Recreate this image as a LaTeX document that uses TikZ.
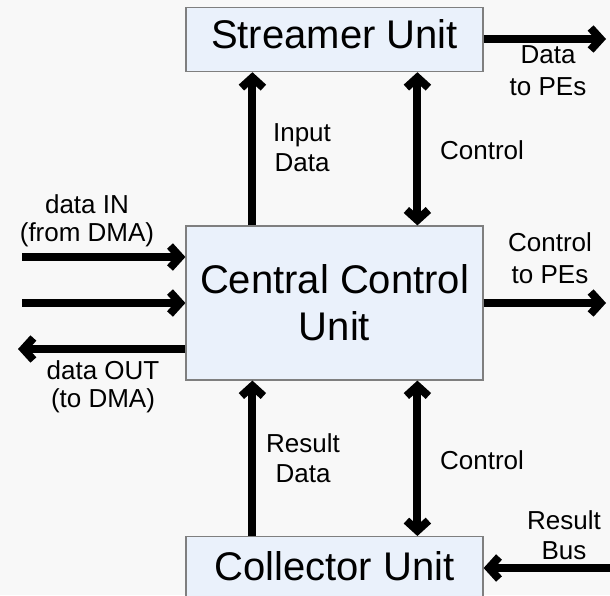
\documentclass[tikz,border=0pt]{standalone}
\usepackage{fontspec}
\setmainfont{Liberation Sans}
\usetikzlibrary{arrows.meta}
\definecolor{boxfill}{HTML}{EAF1FB}
\definecolor{boxline}{HTML}{7F7F7F}
\definecolor{bgcol}{HTML}{F8F8F8}
\begin{document}
\begin{tikzpicture}[x=1pt,y=-1pt,
  unit/.style={draw=boxline, line width=1.2pt, fill=boxfill, inner sep=0pt,
    minimum width=297pt, font=\fontsize{40}{47}\selectfont, align=center},
  lbl/.style={font=\fontsize{26}{30}\selectfont, align=center, inner sep=0pt},
  wide/.style={font=\fontsize{26}{32}\selectfont},
  narrow/.style={font=\fontsize{26}{27.5}\selectfont},
  tipb/.tip={Straight Barb[length=10pt,width=22pt]},
  arr/.style={line width=8pt, -tipb},
  darr/.style={line width=8pt, tipb-tipb}]
\useasboundingbox (0,0) rectangle (610,595);
\fill[bgcol] (0,0) rectangle (610,595);
\clip (0,0) rectangle (610,595);

\node[unit, anchor=north, text height=41pt, text depth=23pt] (streamer) at (334.5,7) {Streamer Unit};
\node[unit, minimum height=154pt] (central) at (334.5,303) {Central Control\\Unit};
\node[unit, anchor=north, text height=44pt, text depth=28pt] (collector) at (334.5,536) {Collector Unit};

\draw[arr] ([xshift=67pt]central.north west) -- ([xshift=67pt]streamer.south west);
\draw[darr] ([xshift=232pt]streamer.south west) -- ([xshift=232pt]central.north west);
\draw[arr] ([xshift=67pt]collector.north west) -- ([xshift=67pt]central.south west);
\draw[darr] ([xshift=232pt]central.south west) -- ([xshift=232pt]collector.north west);

\coordinate (dpe) at (606,39);
\draw[arr] (dpe -| streamer.east) -- (dpe);
\coordinate (cpe) at (606,303);
\draw[arr] (cpe -| central.east) -- (cpe);
\coordinate (rbus) at (614,568);
\draw[arr] (rbus) -- (rbus -| collector.east);

\coordinate (din) at (22,257);
\draw[arr] (din) -- (din -| central.west);
\coordinate (din2) at (22,303);
\draw[arr] (din2) -- (din2 -| central.west);
\coordinate (dout) at (18,349);
\draw[arr] (dout -| central.west) -- (dout);

\node[lbl, wide] (l1) at (548,71) {Data\\to PEs};
\node[lbl] (l2) at (302,148) {Input\\Data};
\node[lbl] (l3) at (482,150) {Control};
\node[lbl, narrow] (l4) at (87,221) {data IN\\(from DMA)};
\node[lbl, narrow] (l5) at (103,387) {data OUT\\(to DMA)};
\node[lbl, wide] (l6) at (550,258) {Control\\to PEs};
\node[lbl] (l7) at (303,458) {Result\\Data};
\node[lbl] (l8) at (482,460) {Control};
\node[lbl] (l9) at (564,535) {Result\\Bus};
\end{tikzpicture}
\end{document}
